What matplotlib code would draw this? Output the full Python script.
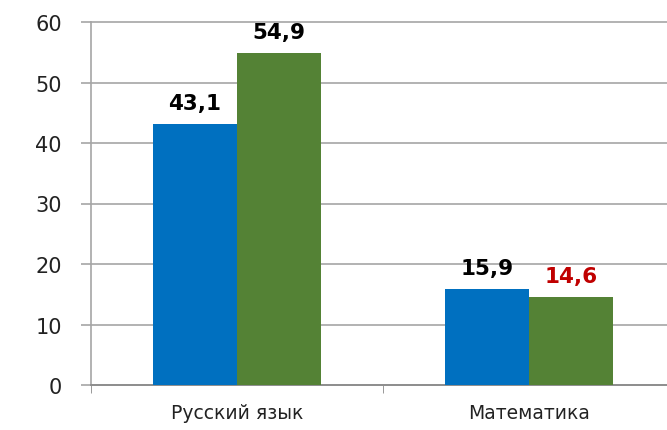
import matplotlib.pyplot as plt
import numpy as np

categories = ['Русский язык', 'Математика']
series_a = [43.1, 15.9]
series_b = [54.9, 14.6]
labels_a = ['43,1', '15,9']
labels_b = ['54,9', '14,6']
label_colors_a = ['black', 'black']
label_colors_b = ['black', '#C00000']

fig = plt.figure(figsize=(6.67, 4.31), dpi=100)
ax = fig.add_axes([91 / 667, 45 / 431, 584 / 667, 363 / 431])

x = np.arange(len(categories))
w = 0.2877
bars_a = ax.bar(x - w / 2, series_a, w, color='#0070C0', zorder=3)
bars_b = ax.bar(x + w / 2, series_b, w, color='#548235', zorder=3)

for bars, labs, cols in [(bars_a, labels_a, label_colors_a), (bars_b, labels_b, label_colors_b)]:
    for b, lab, c in zip(bars, labs, cols):
        ax.annotate(lab, (b.get_x() + b.get_width() / 2, b.get_height()),
                    xytext=(0, 8), textcoords='offset points',
                    ha='center', va='bottom', fontsize=15.5, fontweight='bold', color=c)

ax.set_xlim(-0.5, 1.5)
ax.set_ylim(0, 60)
ax.set_yticks(range(0, 61, 10))
ax.yaxis.grid(True, color='#A6A6A6', linewidth=1.2, zorder=0)
for gl in ax.get_ygridlines():
    gl.set_clip_on(False)
ax.set_xticks(x)
ax.set_xticklabels(categories, fontsize=13.5)
ax.set_xticks([-0.5, 0.5, 1.5], minor=True)
ax.tick_params(axis='x', which='major', length=0, pad=13, colors='#222222')
ax.tick_params(axis='x', which='minor', length=6, color='#888888')
ax.tick_params(axis='y', length=7, color='#A6A6A6', width=1.2, pad=14, labelsize=15, labelcolor='#222222')

for s in ['top', 'right']:
    ax.spines[s].set_visible(False)
ax.spines['left'].set_color('#A6A6A6')
ax.spines['left'].set_linewidth(1.2)
ax.spines['bottom'].set_color('#888888')
ax.spines['bottom'].set_linewidth(1.2)

plt.savefig('out.png', dpi=100)
